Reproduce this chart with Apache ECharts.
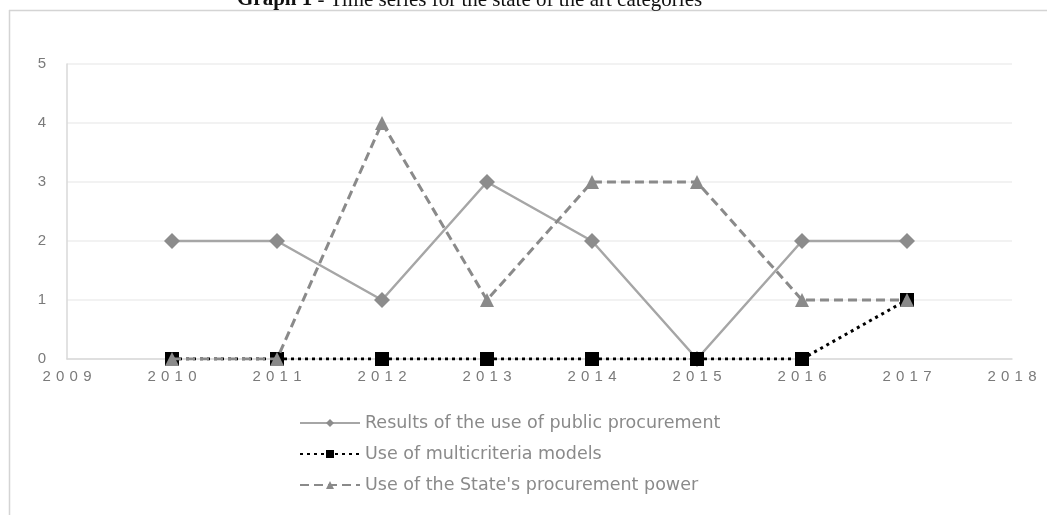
<!DOCTYPE html>
<html>
<head>
<meta charset="utf-8">
<title>Graph 1 - Time series for the state of the art categories</title>
<script src="https://cdn.jsdelivr.net/npm/echarts@6/dist/echarts.min.js"></script>
<style>
  html, body { margin: 0; padding: 0; background: #ffffff; }
  #chart { width: 1047px; height: 515px; }
</style>
</head>
<body>
<div id="chart"></div>
<script>
// Publication years on the horizontal axis
const years = [2010, 2011, 2012, 2013, 2014, 2015, 2016, 2017];
// Number of studies per category and year
const publicProcurementResults = [2, 2, 1, 3, 2, 0, 2, 2];
const multicriteriaModels = [0, 0, 0, 0, 0, 0, 0, 1];
const statePurchasingPower = [0, 0, 4, 1, 3, 3, 1, 1];
// Series names shown in the legend
const seriesNames = [
  'Results of the use of public procurement',
  'Use of multicriteria models',
  "Use of the State's procurement power"
];
// Axis extents
const yearMin = 2009, yearMax = 2018;
const countMin = 0, countMax = 5;

const pairs = vals => years.map((y, i) => [y, vals[i]]);

const chart = echarts.init(document.getElementById('chart'), null, { renderer: 'canvas' });

const labelGray = '#7a7a7a';

chart.setOption({
  animation: false,
  backgroundColor: '#ffffff',
  grid: { left: 67, right: 35, top: 64, bottom: 156, containLabel: false },
  graphic: [
    // frame around the figure
    { type: 'line', shape: { x1: 9, y1: 10.5, x2: 1047, y2: 10.5 }, style: { stroke: '#d4d4d4', lineWidth: 1.5 }, silent: true },
    { type: 'line', shape: { x1: 9.5, y1: 10, x2: 9.5, y2: 515 }, style: { stroke: '#d4d4d4', lineWidth: 1.5 }, silent: true },
    // caption
    {
      type: 'text', left: 237, top: -10.5,
      style: {
        text: '{b|Graph 1}{n| - Time series for the state of the art categories}',
        rich: {
          b: { fontFamily: 'Liberation Serif', fontSize: 21, fontWeight: 'bold', fill: '#111' },
          n: { fontFamily: 'Liberation Serif', fontSize: 21, fill: '#111' }
        }
      },
      silent: true
    }
  ],
  legend: {
    orient: 'vertical',
    left: 294,
    top: 409,
    itemWidth: 60,
    itemHeight: 10,
    itemGap: 13,
    textStyle: { fontFamily: 'DejaVu Sans', fontSize: 17.5, color: '#8a8a8a' },
    data: seriesNames
  },
  xAxis: {
    type: 'value',
    min: yearMin,
    max: yearMax,
    interval: 1,
    axisLine: { show: true, lineStyle: { color: '#d9d9d9', width: 1.5 } },
    axisTick: { show: false },
    splitLine: { show: false },
    axisLabel: {
      margin: 10,
      color: labelGray,
      fontFamily: 'Liberation Sans',
      fontSize: 15,
      formatter: v => '{d|' + String(v).split('').join('}{d|') + '}',
      rich: { d: { padding: [0, 2.6, 0, 2.6], color: labelGray, fontFamily: 'Liberation Sans', fontSize: 15 } }
    }
  },
  yAxis: {
    type: 'value',
    min: countMin,
    max: countMax,
    interval: 1,
    axisLine: { show: true, lineStyle: { color: '#d9d9d9', width: 1.5 } },
    axisTick: { show: false },
    splitLine: { show: true, lineStyle: { color: '#eeeeee', width: 1.5 } },
    axisLabel: { margin: 21, color: labelGray, fontFamily: 'Liberation Sans', fontSize: 15 }
  },
  series: [
    {
      name: seriesNames[0],
      type: 'line',
      data: pairs(publicProcurementResults),
      symbol: 'diamond',
      symbolSize: 16,
      lineStyle: { color: '#a6a6a6', width: 2.5 },
      itemStyle: { color: '#8c8c8c' },
      z: 2
    },
    {
      name: seriesNames[1],
      type: 'line',
      data: pairs(multicriteriaModels),
      symbol: 'rect',
      symbolSize: 14,
      lineStyle: { color: '#000000', width: 3, type: [3, 4] },
      itemStyle: { color: '#000000' },
      z: 3
    },
    {
      name: seriesNames[2],
      type: 'line',
      data: pairs(statePurchasingPower),
      symbol: 'triangle',
      symbolSize: 14,
      lineStyle: { color: '#8a8a8a', width: 3, type: [9, 5] },
      itemStyle: { color: '#8a8a8a' },
      z: 4
    }
  ]
});
</script>
</body>
</html>
